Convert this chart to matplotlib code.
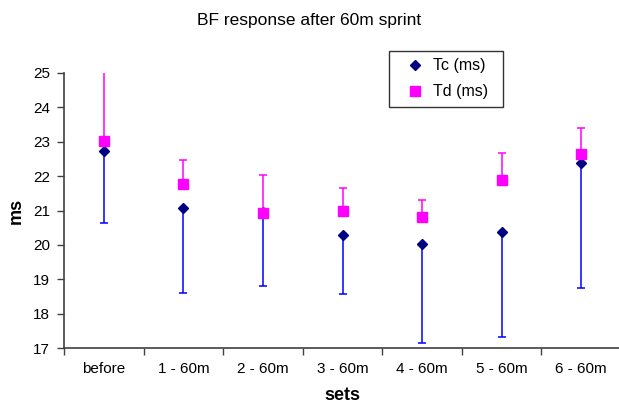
import matplotlib.pyplot as plt
from matplotlib.lines import Line2D
import numpy as np

plt.rcParams["font.family"] = ["Liberation Sans", "DejaVu Sans"]

# data
sets = ['before', '1 - 60m', '2 - 60m', '3 - 60m', '4 - 60m', '5 - 60m', '6 - 60m']
tc = [22.73, 21.07, 20.96, 20.30, 20.04, 20.38, 22.39]       # Tc (ms)
tc_low = [20.64, 18.60, 18.79, 18.58, 17.15, 17.31, 18.75]   # lower error end
td = [23.01, 21.78, 20.93, 20.99, 20.81, 21.88, 22.63]       # Td (ms)
td_high = [25.40, 22.46, 22.02, 21.64, 21.30, 22.68, 23.39]  # upper error end

x = np.arange(len(sets))
tc = np.array(tc)
td = np.array(td)
tc_err = [tc - np.array(tc_low), np.zeros(len(tc))]
td_err = [np.zeros(len(td)), np.array(td_high) - td]

fig = plt.figure(figsize=(6.19, 4.08), dpi=100, facecolor='white')
ax = fig.add_axes([64 / 619, 60 / 408, 557 / 619, 275 / 408])

ax.errorbar(x, tc, yerr=tc_err, fmt='D', color='#000080', markersize=5.5,
            ecolor='#0000ff', elinewidth=1.1, capsize=3.2, capthick=1.1, zorder=3)
ax.errorbar(x, td, yerr=td_err, fmt='s', color='#ff00ff', markersize=7,
            ecolor='#ff00ff', elinewidth=1.1, capsize=3.2, capthick=1.1, zorder=4)

ax.set_xlim(-0.5, len(sets) - 0.5)
ax.set_ylim(17, 25)
ax.set_yticks(range(17, 26))
ax.set_xticks(x)
ax.set_xticklabels(sets)
ax.set_xticks(np.arange(-0.5, len(sets)), minor=True)
ax.tick_params(axis='x', which='major', length=0, pad=10, labelsize=11)
ax.tick_params(axis='x', which='minor', length=5, width=1, color='#404040')
ax.tick_params(axis='y', length=5, width=1, color='#404040', pad=5, labelsize=11)

for s in ['top', 'right']:
    ax.spines[s].set_visible(False)
for s in ['left', 'bottom']:
    ax.spines[s].set_color('#404040')
    ax.spines[s].set_linewidth(1.2)

ax.set_xlabel('sets', fontsize=13, fontweight='bold', labelpad=8)
ax.set_ylabel('ms', fontsize=13, fontweight='bold', labelpad=6)
fig.text(0.5, 1 - 20 / 408, 'BF response after 60m sprint', ha='center', va='center', fontsize=12.5)

handles = [
    Line2D([], [], linestyle='none', marker='D', color='#000080', markersize=5),
    Line2D([], [], linestyle='none', marker='s', color='#ff00ff', markersize=7),
]
leg = ax.legend(handles, ['Tc (ms)', 'Td (ms)'], loc='upper left', mode='expand',
                bbox_to_anchor=(389 / 619, 1 - 107 / 408, 114 / 619, 56 / 408),
                bbox_transform=fig.transFigure, frameon=True, fancybox=False,
                edgecolor='black', fontsize=11.5, labelspacing=0.7,
                handlelength=2.3, handletextpad=0.0, borderpad=0.45,
                borderaxespad=0, numpoints=1)
leg.get_frame().set_linewidth(1)

plt.savefig('out.png', dpi=100)
